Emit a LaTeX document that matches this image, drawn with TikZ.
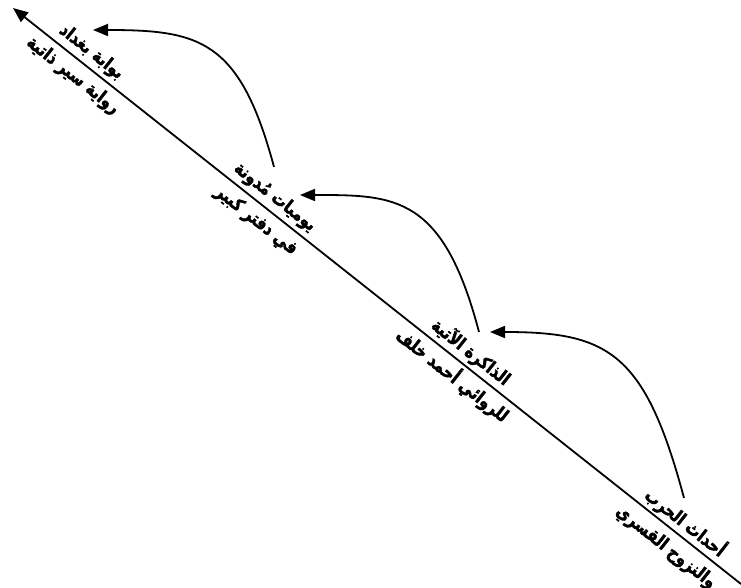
\documentclass[tikz,border=0pt]{standalone}
\usepackage{fontspec}
\newfontfamily\arabicfont[Script=Arabic, FakeStretch=0.84, BoldFont={DejaVu Sans Bold}, BoldFeatures={FakeBold=2}]{DejaVu Sans}
\TeXXeTstate=1
\usetikzlibrary{arrows.meta}
\begin{document}
\begin{tikzpicture}[x=1pt,y=-1pt,
  lbl/.style={rotate=-38.35, align=center, inner sep=0pt,
    font=\arabicfont\bfseries\fontsize{18}{30}\selectfont},
  mainline/.style={line width=1.8pt, -{Triangle[length=15pt,width=12pt]}},
  curvearrow/.style={line width=1.8pt, -{Triangle[length=15pt,width=12pt]}}]
\useasboundingbox (0,0) rectangle (741,588);
\fill[white] (0,0) rectangle (741,588);
\coordinate (lineStart) at (741,584);
\coordinate (lineEnd) at (13,8);
\draw[mainline] (lineStart) -- (lineEnd);

\node[lbl] (l1) at (82,64) {\beginR بوابة بغداد\endR\\\beginR رواية سير ذاتية\endR};
\node[lbl] (l2) at (265.4,209) {\beginR يوميات مُدونة\endR\\\beginR في دفتر كبير\endR};
\node[lbl] (l3) at (461.4,364) {\beginR الذاكرة الآتية\endR\\\beginR للروائي أحمد خلف\endR};
\node[lbl] (l4) at (676.3,534) {\beginR أحداث الحرب\endR\\\beginR والنزوح القسري\endR};

\coordinate (c1s) at (274,167);
\coordinate (c1e) at (93,30);
\coordinate (c2s) at (479,332);
\coordinate (c2e) at (300,195);
\coordinate (c3s) at (684,498);
\coordinate (c3e) at (490,332);

\draw[curvearrow] (c1s) .. controls (240,40) and (200,30) .. (c1e);
\draw[curvearrow] (c2s) .. controls (443,195) and (395,195) .. (c2e);
\draw[curvearrow] (c3s) .. controls (645,352) and (608,332) .. (c3e);
\end{tikzpicture}
\end{document}
